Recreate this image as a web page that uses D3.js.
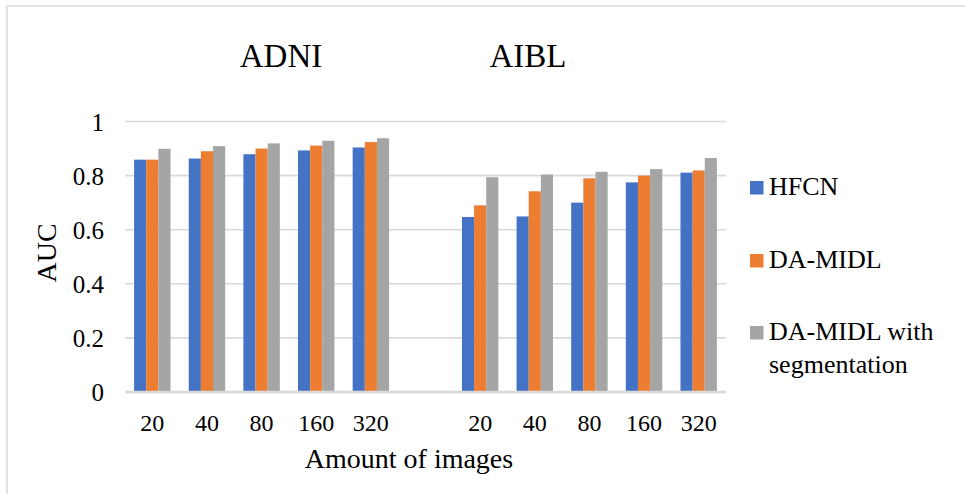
<!DOCTYPE html>
<html><head><meta charset="utf-8">
<script src="https://cdn.jsdelivr.net/npm/d3@7"></script>
<style>body{margin:0;background:#fff;}svg{display:block;font-family:"Liberation Serif","Times New Roman",serif;}</style>
</head><body>
<svg id="c" width="965" height="494"></svg>
<script>
const categoryKeys = ["ADNI-20","ADNI-40","ADNI-80","ADNI-160","ADNI-320","gap","AIBL-20","AIBL-40","AIBL-80","AIBL-160","AIBL-320"];
const tickLabels = ["20","40","80","160","320","","20","40","80","160","320"];
const seriesNames = ["HFCN","DA-MIDL","DA-MIDL with segmentation"];
const hfcn = [0.859,0.863,0.879,0.893,0.904,null,0.647,0.649,0.700,0.775,0.811];
const daMidl = [0.859,0.890,0.900,0.911,0.924,null,0.690,0.742,0.790,0.800,0.819];
const daMidlSeg = [0.899,0.909,0.919,0.929,0.938,null,0.794,0.804,0.814,0.824,0.865];
const yTicks = [0,0.2,0.4,0.6,0.8,1];
const groupTitles = ["ADNI","AIBL"];
const colors = ["#4472C4","#ED7D31","#A5A5A5"];

const values = [hfcn, daMidl, daMidlSeg];
const svg = d3.select("#c");

// chart border
svg.append("rect").attr("x",7).attr("y",6).attr("width",1000).attr("height",520)
  .attr("fill","none").attr("stroke","#d9d9d9").attr("stroke-width",1.5);

const x0 = d3.scaleBand().domain(categoryKeys).range([125,726]).paddingInner(0).paddingOuter(0);
const x1 = d3.scaleBand().domain(seriesNames).range([0,x0.bandwidth()]).paddingInner(0).paddingOuter(0.75);
const y = d3.scaleLinear().domain([0,1]).range([392,121.5]);

// gridlines
svg.append("g").selectAll("line").data(yTicks.filter(d=>d>0)).join("line")
  .attr("x1",125).attr("x2",726).attr("y1",d=>y(d)).attr("y2",d=>y(d))
  .attr("stroke","#d9d9d9").attr("stroke-width",1.6);

// bars
const g = svg.append("g");
seriesNames.forEach((s,si)=>{
  g.append("g").selectAll("rect").data(categoryKeys.map((k,i)=>({k,v:values[si][i]})).filter(d=>d.v!=null))
   .join("rect")
   .attr("x",d=>x0(d.k)+x1(s))
   .attr("width",x1.bandwidth())
   .attr("y",d=>y(d.v))
   .attr("height",d=>y(0)-y(d.v))
   .attr("fill",colors[si]);
});

// baseline
svg.append("line").attr("x1",125).attr("x2",726).attr("y1",y(0)).attr("y2",y(0))
  .attr("stroke","#d9d9d9").attr("stroke-width",2.5);

// y axis labels
const yAxis = d3.axisLeft(y).tickValues(yTicks).tickFormat(d=>d3.format("~g")(d)).tickSize(0).tickPadding(0);
const ya = svg.append("g").attr("transform","translate(104,0)").call(yAxis).attr("font-family",null);
ya.select(".domain").remove();
ya.selectAll("text").attr("font-size",25).style("font-family","'Liberation Serif', serif").attr("fill","#000").attr("dy","0.35em");

// x axis labels
const xAxis = d3.axisBottom(x0).tickFormat((d,i)=>tickLabels[i]).tickSize(0).tickPadding(0);
const xa = svg.append("g").attr("transform","translate(0,413)").call(xAxis).attr("font-family",null);
xa.select(".domain").remove();
xa.selectAll("text").attr("font-size",24).style("font-family","'Liberation Serif', serif").attr("fill","#000").attr("dy","0.75em");

// axis titles
svg.append("text").attr("x",409).attr("y",468).attr("text-anchor","middle")
  .attr("font-size",28).text("Amount of images");
svg.append("text").attr("transform","translate(56,253) rotate(-90)").attr("text-anchor","middle")
  .attr("font-size",28).text("AUC");

// group titles
svg.append("text").attr("x",281).attr("y",67).attr("text-anchor","middle").attr("font-size",33).text(groupTitles[0]);
svg.append("text").attr("x",528).attr("y",67).attr("text-anchor","middle").attr("font-size",33).text(groupTitles[1]);

// legend
const legendY = [181,254,326];
const lg = svg.append("g");
seriesNames.forEach((s,i)=>{
  lg.append("rect").attr("x",750).attr("y",legendY[i]).attr("width",13.5).attr("height",13.5).attr("fill",colors[i]);
  if (i<2) {
    lg.append("text").attr("x",769).attr("y",legendY[i]+14).attr("font-size",26).text(s);
  } else {
    lg.append("text").attr("x",769).attr("y",legendY[i]+14).attr("font-size",26).text("DA-MIDL with");
    lg.append("text").attr("x",769).attr("y",legendY[i]+47).attr("font-size",26).text("segmentation");
  }
});
</script>
</body></html>
